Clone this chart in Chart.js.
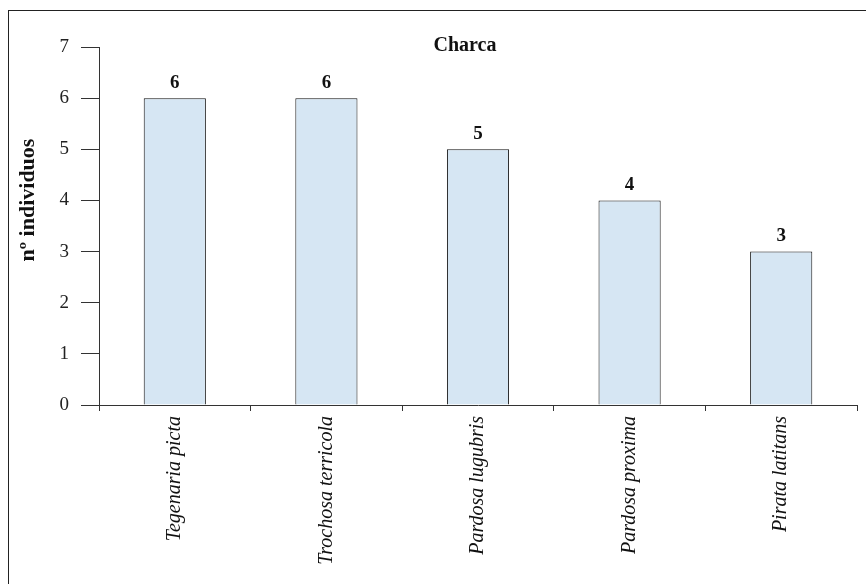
<!DOCTYPE html>
<html>
<head>
<meta charset="utf-8">
<script src="https://cdn.jsdelivr.net/npm/chart.js@4"></script>
<style>
  html, body { margin: 0; padding: 0; background: #fff; }
  #wrap { position: relative; width: 866px; height: 584px; overflow: hidden; }
  #frame { position: absolute; left: 8px; top: 10px; width: 900px; height: 600px;
           border-top: 1.5px solid #222; border-left: 1.5px solid #222; }
  canvas { position: absolute; left: 0; top: 0; }
</style>
</head>
<body>
<div id="wrap">
  <div id="frame"></div>
  <canvas id="myChart" width="866" height="584"></canvas>
</div>
<script>
// species and counts
const species = ['Tegenaria picta', 'Trochosa terricola', 'Pardosa lugubris', 'Pardosa proxima', 'Pirata latitans'];
const counts = [6, 6, 5, 4, 3];
const yTicks = [0, 1, 2, 3, 4, 5, 6, 7];
const chartTitle = 'Charca';
const yTitle = 'nº individuos';

const serif = "'Liberation Serif', 'DejaVu Serif', serif";

// value labels over each bar + title + y title
const extraText = {
    id: 'extraText',
    afterDatasetsDraw(chart) {
        const ctx = chart.ctx;
        const area = chart.chartArea;
        ctx.save();
        ctx.fillStyle = '#111';
        ctx.textAlign = 'center';
        ctx.textBaseline = 'middle';
        ctx.font = 'bold 19px ' + serif;
        chart.getDatasetMeta(0).data.forEach((bar, i) => {
            ctx.fillText(counts[i], bar.x, bar.y - 15);
        });
        ctx.font = 'bold 20px ' + serif;
        ctx.fillText(chartTitle, 465, area.top - 1);
        ctx.translate(28, 200);
        ctx.rotate(-Math.PI / 2);
        ctx.font = 'bold 22px ' + serif;
        ctx.fillText(yTitle, 0, 0);
        ctx.restore();
    }
};

const ctx = document.getElementById('myChart').getContext('2d');
const myChart = new Chart(ctx, {
    type: 'bar',
    data: {
        labels: species,
        datasets: [{
            data: counts,
            backgroundColor: '#d6e6f3',
            borderColor: '#111',
            borderWidth: 1,
            barPercentage: 0.41,
            categoryPercentage: 1
        }]
    },
    options: {
        responsive: false,
        animation: false,
        layout: { padding: { top: 47, right: 9, left: 0, bottom: 0 } },
        plugins: {
            legend: { display: false },
            tooltip: { enabled: false }
        },
        scales: {
            x: {
                offset: true,
                grid: { drawOnChartArea: false, drawTicks: true, tickLength: 6, color: '#333', offset: true },
                border: { color: '#333', width: 1 },
                ticks: {
                    minRotation: 90,
                    maxRotation: 90,
                    padding: 5,
                    color: '#111',
                    font: { family: serif, size: 20, style: 'italic' }
                },
                afterFit(scale) { scale.height = 179; }
            },
            y: {
                min: 0,
                max: 7,
                afterBuildTicks(scale) { scale.ticks = yTicks.map(v => ({ value: v })); },
                grid: { drawOnChartArea: false, drawTicks: true, tickLength: 18, color: '#333' },
                border: { color: '#333', width: 1 },
                ticks: {
                    padding: 12,
                    color: '#222',
                    font: { family: serif, size: 19 }
                },
                afterFit(scale) { scale.width = 99; }
            }
        }
    },
    plugins: [extraText]
});
</script>
</body>
</html>
